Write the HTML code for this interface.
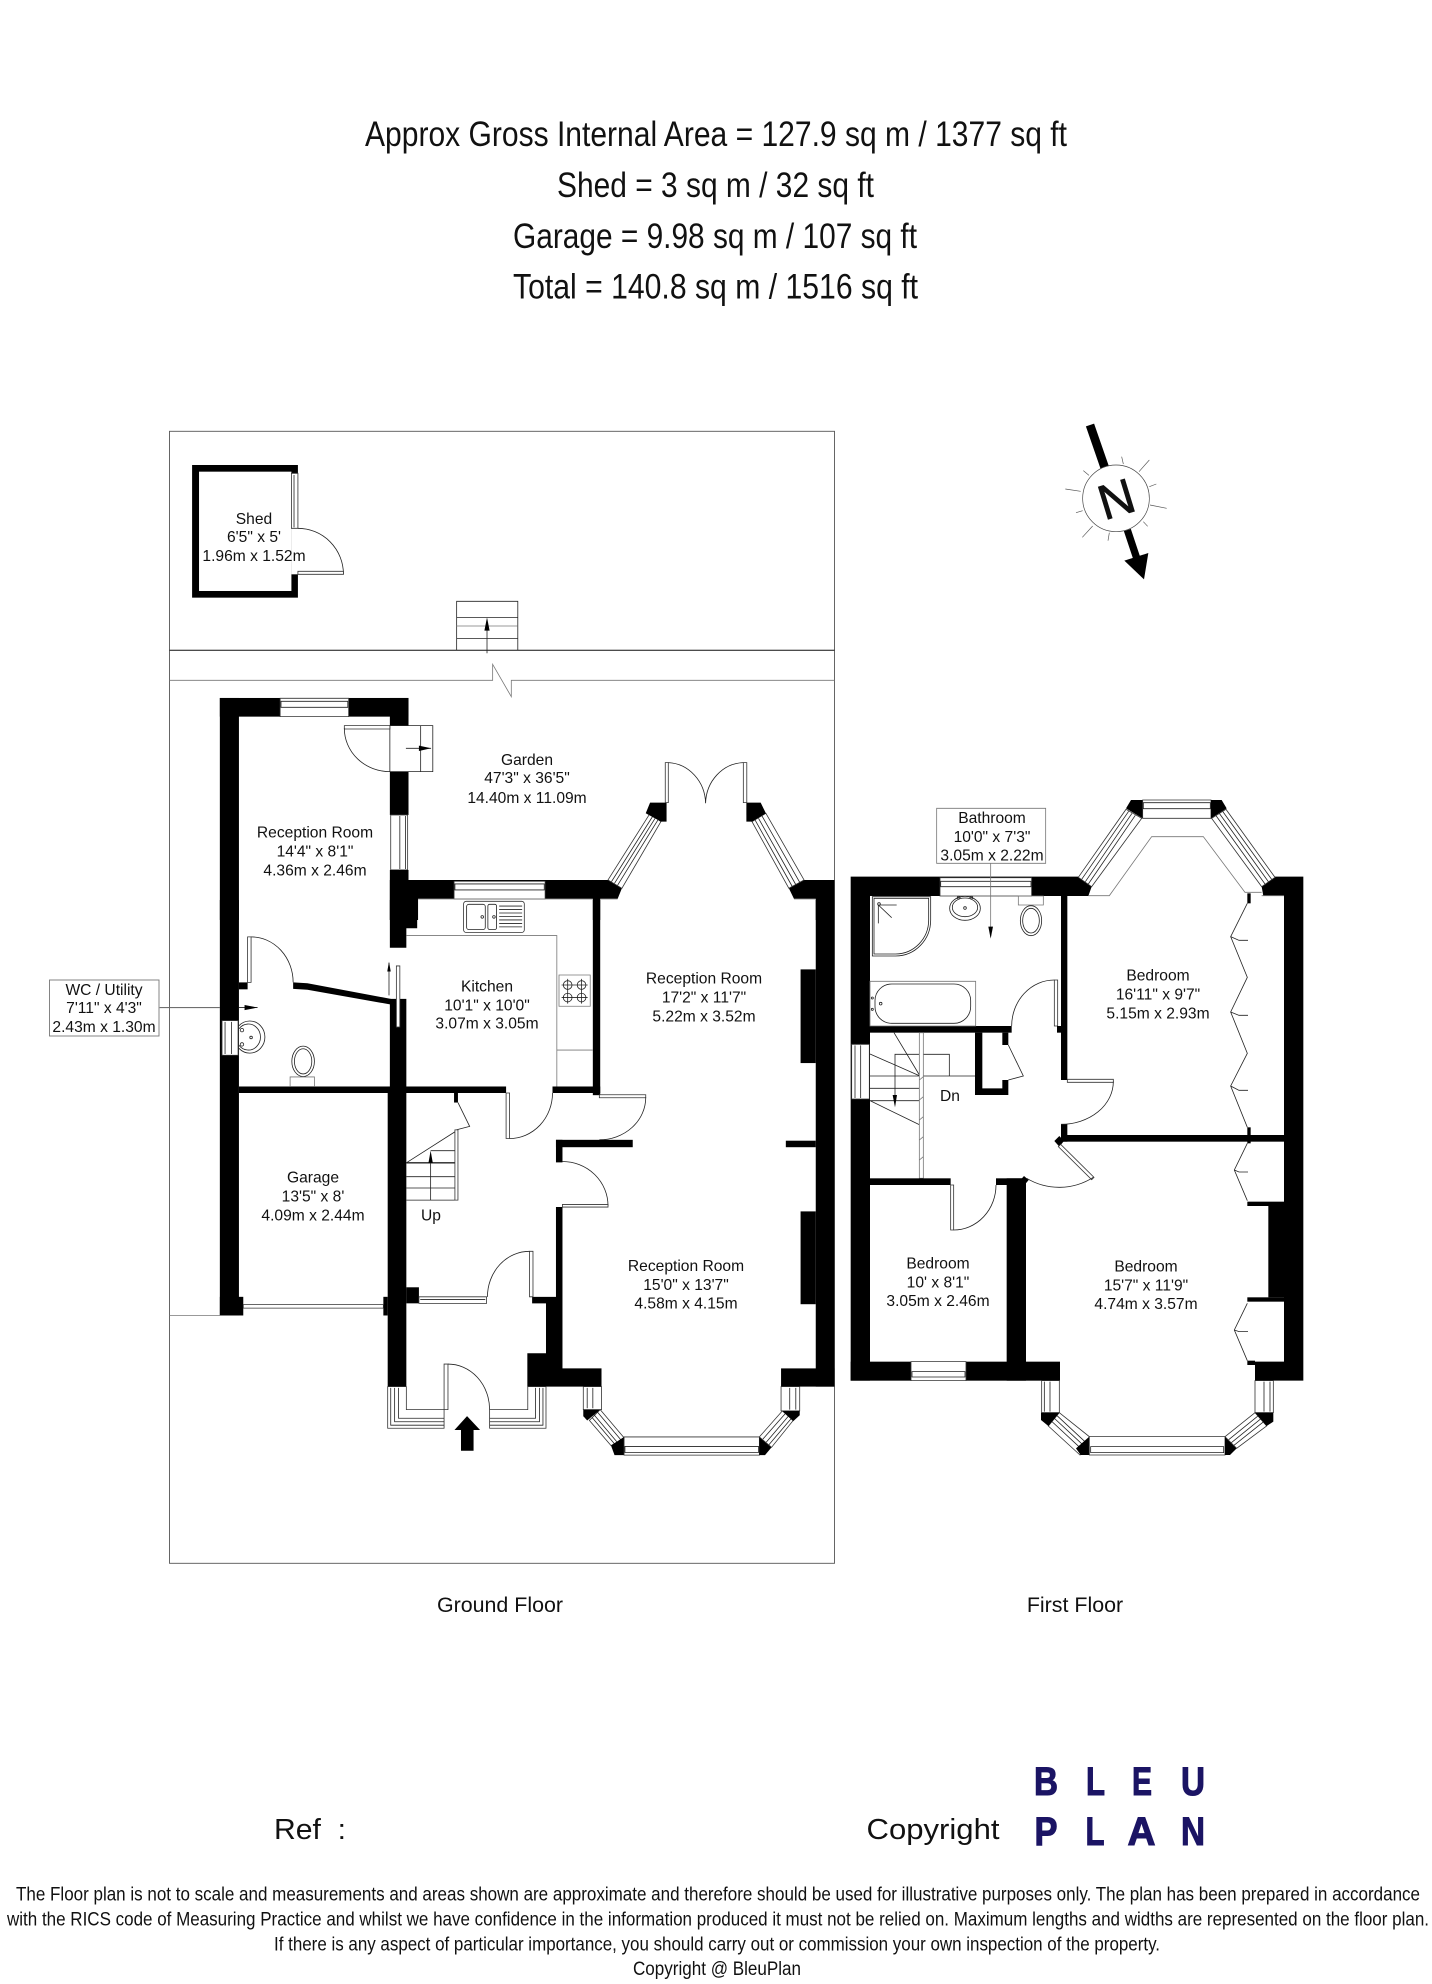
<!DOCTYPE html>
<html><head><meta charset="utf-8"><style>
html,body{margin:0;padding:0;background:#fff}
svg{display:block}
text{font-family:"Liberation Sans",Arial,sans-serif;fill:#111;text-anchor:middle}
.lb{font-size:15.6px}
.l{fill:none;stroke:#222;stroke-width:.8;vector-effect:non-scaling-stroke}
.g{fill:none;stroke:#777;stroke-width:.8;vector-effect:non-scaling-stroke}
.w{fill:#fff;stroke:#333;stroke-width:.8;vector-effect:non-scaling-stroke}
.b{fill:#000;stroke:none}
.logo text{fill:#1b1464;stroke:#1b1464;stroke-width:1.1}
</style></head><body>
<svg width="1432" height="1984" viewBox="0 0 1432 1984" xmlns="http://www.w3.org/2000/svg">
<rect width="1432" height="1984" fill="#fff"/>

<text x="716" y="146" font-size="35.5" textLength="702" lengthAdjust="spacingAndGlyphs">Approx Gross Internal Area = 127.9 sq m / 1377 sq ft</text>
<text x="715.5" y="197" font-size="35.5" textLength="317" lengthAdjust="spacingAndGlyphs">Shed = 3 sq m / 32 sq ft</text>
<text x="715" y="248" font-size="35.5" textLength="404" lengthAdjust="spacingAndGlyphs">Garage = 9.98 sq m / 107 sq ft</text>
<text x="715.5" y="298.5" font-size="35.5" textLength="405" lengthAdjust="spacingAndGlyphs">Total = 140.8 sq m / 1516 sq ft</text>

<!-- site frame -->
<rect x="169.5" y="431.3" width="665" height="1132" fill="none" stroke="#555" stroke-width=".9"/>
<path d="M169.5 650.3H834.5" stroke="#111" stroke-width="1" fill="none"/>

<!-- GROUP A -->
<g transform="translate(160 420) scale(.4337 .3333)">
  <path class="g" d="M22 781H767V733L810 830V781H1555"/>
  <!-- shed -->
  <rect class="b" x="74" y="135" width="244" height="398"/>
  <rect x="90" y="155" width="213" height="358" fill="#fff"/>
  <rect x="303" y="160" width="16" height="303" fill="#fff"/>
  <rect class="w" x="303" y="160" width="15" height="165"/>
  <path class="l" d="M309 165V322"/>
  <path class="l" d="M318 325A105 138 0 0 1 423 463"/>
  <rect class="w" x="318" y="454" width="105" height="9"/>
  <!-- steps -->
  <path class="l" d="M684 691V544H825V691M684 593H825M684 656H825"/>
  <path class="g" d="M684 618H825"/>
  <path class="l" d="M754 700V600"/>
  <path class="b" d="M754 592L760 632H748Z"/>
  <!-- back reception walls -->
  <rect class="b" x="138" y="834" width="44" height="666"/>
  <rect class="b" x="138" y="834" width="435" height="56"/>
  <rect class="w" x="277" y="835" width="158" height="55"/>
  <rect class="l" x="279" y="844" width="154" height="18"/>
  <rect class="b" x="530" y="834" width="43" height="83"/>
  <rect class="b" x="530" y="1055" width="43" height="130"/>
  <rect class="w" x="532" y="1185" width="39" height="165"/>
  <path class="l" d="M553 1188V1347M566 1188V1347"/>
  <rect class="b" x="530" y="1350" width="43" height="150"/>
  <rect class="l" x="530" y="917" width="99" height="138"/>
  <path class="l" d="M601 917V1055"/>
  <rect class="w" x="425" y="917" width="105" height="10"/>
  <path class="l" d="M425 925A105 130 0 0 0 530 1055"/>
  <path class="l" d="M567 985H625"/>
  <path class="b" d="M625 985L597 977V993Z"/>
  <!-- kitchen top wall -->
  <path class="b" d="M530 1380H1033L1065 1405L1055 1437H595V1500H530Z"/>
  <rect class="w" x="678" y="1384" width="210" height="53"/>
  <rect class="l" x="680" y="1392" width="206" height="18"/>
  <rect class="b" x="998" y="1437" width="17" height="63"/>
  <path class="g" d="M595 1437H998M1015 1437H1055"/>
  <!-- right top wall -->
  <path class="b" d="M1450 1405L1485 1380H1555V1500H1512V1437H1462Z"/>
  <path class="g" d="M1462 1437H1512"/>
  <!-- bay left -->
  <path class="w" d="M1033 1380L1130 1180L1155 1205L1065 1405Z"/>
  <path class="l" d="M1041 1385L1137 1187M1048 1390L1143 1192M1055 1396L1149 1198"/>
  <path class="b" d="M1130 1148H1168V1205H1155L1120 1180Z"/>
  <!-- bay right -->
  <path class="w" d="M1365 1205L1397 1180L1485 1380L1450 1405Z"/>
  <path class="l" d="M1372 1200L1458 1400M1380 1195L1466 1394M1388 1188L1475 1387"/>
  <path class="b" d="M1352 1148H1385L1397 1180L1365 1205H1352Z"/>
  <!-- french doors -->
  <rect class="w" x="1165" y="1028" width="7" height="120"/>
  <rect class="w" x="1345" y="1028" width="8" height="120"/>
  <path class="l" d="M1172 1028A90 125 0 0 1 1258 1150M1345 1028A90 125 0 0 0 1258 1150"/>
</g>

<!-- GROUP B -->
<g transform="translate(160 900) scale(.4337)">
  <path class="g" d="M22 958H138"/>
  <!-- outer left -->
  <rect class="b" x="138" y="0" width="44" height="958"/>
  <rect class="b" x="138" y="915" width="54" height="43"/>
  <rect class="w" x="143" y="278" width="37" height="80"/>
  <path class="l" d="M150 281V355M165 281V355"/>
  <!-- wc partition -->
  <rect class="b" x="182" y="190" width="20" height="16"/>
  <rect class="w" x="202" y="85" width="8" height="105"/>
  <path class="l" d="M210 85A97 105 0 0 1 307 190"/>
  <path class="b" d="M307 190L340 192L532 228V241L340 207L307 205Z"/>
  <!-- spine wall -->
  <path class="b" d="M530 0H593V65H568V110H530Z"/>
  <rect class="b" x="530" y="228" width="38" height="205"/>
  <rect class="b" x="525" y="430" width="43" height="692"/>
  <rect class="b" x="568" y="893" width="29" height="37"/>
  <rect class="b" x="515" y="915" width="10" height="43"/>
  <rect class="w" x="545" y="152" width="8" height="141"/>
  <path class="l" d="M528 220V145"/>
  <path class="b" d="M528 142L532 165H524Z"/>
  <!-- garage wall, horizontal -->
  <rect class="b" x="182" y="430" width="616" height="15"/>
  <rect class="w" x="798" y="445" width="8" height="105"/>
  <path class="l" d="M806 550A99 105 0 0 0 905 445"/>
  <rect class="b" x="905" y="430" width="110" height="15"/>
  <rect class="b" x="998" y="0" width="17" height="450"/>
  <rect class="w" x="192" y="933" width="323" height="8"/>
  <!-- door to rear reception -->
  <rect class="w" x="1013" y="449" width="107" height="7"/>
  <path class="l" d="M1120 455A107 98 0 0 1 1013 553"/>
  <rect class="b" x="913" y="553" width="177" height="17"/>
  <rect class="b" x="913" y="553" width="15" height="52"/>
  <rect class="b" x="1443" y="555" width="69" height="15"/>
  <path class="l" d="M928 603A105 102 0 0 1 1033 705"/>
  <rect class="w" x="928" y="702" width="105" height="6"/>
  <path class="b" d="M913 708H928V1080H1018V1122H847V1045H890V930H858V915H913Z"/>
  <!-- right wall -->
  <rect class="b" x="1512" y="0" width="43" height="1122"/>
  <rect class="b" x="1432" y="1080" width="123" height="42"/>
  <rect class="b" x="1477" y="160" width="35" height="216"/>
  <rect class="b" x="1477" y="718" width="35" height="214"/>
  <!-- hall door -->
  <rect class="w" x="852" y="810" width="8" height="105"/>
  <path class="l" d="M852 810A97 105 0 0 0 755 915"/>
  <rect class="w" x="597" y="915" width="156" height="15"/>
  <path class="l" d="M600 921H750"/>
  <!-- kitchen -->
  <path class="g" d="M568 82H915V430M915 346H998"/>
  <rect class="w" x="700" y="3" width="140" height="72" rx="6"/>
  <rect class="l" x="707" y="10" width="43" height="58" rx="5"/>
  <rect class="l" x="756" y="10" width="20" height="58" rx="4"/>
  <path class="l" d="M782 14H835M782 22H835M782 30H835M782 38H835M782 46H835M782 54H835M782 62H835"/>
  <circle class="l" cx="743" cy="39" r="3"/><circle class="l" cx="770" cy="39" r="3"/>
  <rect class="g" x="920" y="173" width="72" height="72"/>
  <circle class="l" cx="940" cy="196" r="10"/><circle class="l" cx="972" cy="196" r="10"/>
  <circle class="l" cx="940" cy="225" r="10"/><circle class="l" cx="972" cy="225" r="10"/>
  <path class="l" d="M926 196H986M926 225H986M940 182V239M972 182V239"/>
  <!-- wc -->
  <path class="l" d="M182 290A35 37 0 1 1 182 342"/>
  <path class="l" d="M182 297A28 30 0 1 1 182 335"/>
  <circle class="l" cx="210" cy="317" r="3"/>
  <circle class="l" cx="189" cy="300" r="4"/><circle class="l" cx="189" cy="333" r="4"/>
  <ellipse class="l" cx="330" cy="372" rx="26" ry="35"/>
  <ellipse class="l" cx="330" cy="372" rx="20" ry="29"/>
  <rect class="g" x="300" y="408" width="56" height="22"/>
  <path class="l" d="M0 248H138"/>
  <path class="l" d="M182 248H225"/>
  <path class="b" d="M225 248L195 242V254Z"/>
  <!-- stairs -->
  <rect class="b" x="678" y="445" width="9" height="22"/>
  <path class="l" d="M687 467L714 522L683 530"/>
  <path class="l" d="M687 530L568 606M624 578H680M568 638H680M568 664H680M568 692H687"/>
  <path class="l" d="M568 606H680" style="stroke-width:1.4"/>
  <rect class="w" x="680" y="530" width="7" height="162"/>
  <path class="l" d="M624 692V585"/>
  <path class="b" d="M624 578L629 606H619Z"/>
  <!-- porch -->
  <path class="w" d="M525 1122V1218H655V1175H568V1122Z"/>
  <path class="l" d="M532 1125V1211H655M541 1125V1203H655M550 1125V1195H655"/>
  <rect class="w" x="655" y="1070" width="9" height="105"/>
  <path class="l" d="M664 1070A96 105 0 0 1 760 1175"/>
  <path class="w" d="M760 1175H848V1122H890V1218H760Z"/>
  <path class="l" d="M760 1211H883V1125M760 1203H875V1125M760 1195H866V1125"/>
  <path class="b" d="M708 1190L738 1222H723V1270H694V1222H679Z"/>
  <!-- bay front -->
  <rect class="w" x="976" y="1122" width="42" height="53"/>
  <path class="l" d="M985 1125V1172M998 1125V1172"/>
  <path class="w" d="M1015 1175L1070 1240L1040 1258L990 1200Z"/>
  <path class="l" d="M1008 1180L1062 1244M1000 1186L1054 1250M996 1193L1048 1254"/>
  <path class="b" d="M976 1175H1015L985 1200L976 1190Z"/>
  <path class="b" d="M1040 1258L1070 1238V1280H1048Z"/>
  <rect class="w" x="1070" y="1238" width="312" height="42"/>
  <rect class="l" x="1072" y="1260" width="308" height="14"/>
  <path class="b" d="M1382 1238L1410 1262L1395 1280H1382Z"/>
  <path class="w" d="M1382 1238L1435 1178L1460 1200L1410 1262Z"/>
  <path class="l" d="M1390 1243L1442 1184M1398 1250L1449 1190M1404 1256L1455 1196"/>
  <rect class="w" x="1432" y="1122" width="43" height="56"/>
  <path class="l" d="M1452 1125V1175M1466 1125V1175"/>
  <path class="b" d="M1435 1178H1475V1188L1460 1202Z"/>
</g>

<!-- GROUP C -->
<g transform="translate(840 780) scale(.33333)">
  <!-- outer -->
  <path class="b" d="M32 290H715L755 320L745 348H90V1802H32Z"/>
  <rect class="b" x="32" y="1745" width="628" height="57"/>
  <rect class="w" x="300" y="293" width="275" height="55"/>
  <rect class="l" x="302" y="304" width="271" height="16"/>
  <rect class="w" x="35" y="793" width="53" height="164"/>
  <path class="l" d="M45 796V954M62 796V954"/>
  <path class="b" d="M1265 320L1305 290H1390V1802H1245V1745H1332V348H1270Z"/>
  <!-- bay top -->
  <path class="w" d="M715 292L858 88L905 115L755 320Z"/>
  <path class="l" d="M725 298L866 94M736 305L876 100M745 312L886 106"/>
  <path class="b" d="M873 60H908V115L858 85Z"/>
  <rect class="w" x="908" y="60" width="205" height="55"/>
  <rect class="l" x="910" y="68" width="201" height="18"/>
  <path class="b" d="M1113 60H1145L1160 85L1113 115Z"/>
  <path class="w" d="M1115 115L1158 88L1305 292L1265 320Z"/>
  <path class="l" d="M1128 107L1275 312M1138 100L1285 305M1148 94L1295 298"/>
  <path class="g" d="M745 347H808L935 170H1090L1215 337H1265"/>
  <path class="g" d="M1265 347H1332"/>
  <!-- partition -->
  <rect class="b" x="663" y="348" width="19" height="552"/>
  <rect class="b" x="663" y="1033" width="19" height="52"/>
  <rect class="b" x="663" y="1065" width="669" height="20"/>
  <path class="b" d="M643 1083L658 1068L672 1083L658 1100Z"/>
  <rect class="w" x="643" y="600" width="10" height="138"/>
  <rect class="b" x="651" y="738" width="12" height="20"/>
  <path class="l" d="M643 600A128 138 0 0 0 515 738"/>
  <rect class="w" x="682" y="898" width="138" height="9"/>
  <path class="l" d="M820 905A157 128 0 0 1 663 1033"/>
  <!-- wardrobes -->
  <rect class="b" x="1222" y="340" width="10" height="30"/>
  <rect class="b" x="1222" y="1042" width="10" height="48"/>
  <path class="l" d="M1222 370L1172 470L1222 592L1172 696L1222 820L1172 918L1222 1042"/>
  <path class="l" d="M1172 470L1197 481H1224M1172 696L1197 706H1224M1172 918L1197 931H1224"/>
  <path class="l" d="M1222 1090L1183 1170L1222 1262M1183 1170L1197 1176H1224"/>
  <rect class="b" x="1222" y="1265" width="110" height="13"/>
  <rect class="b" x="1285" y="1278" width="47" height="274"/>
  <rect class="b" x="1222" y="1552" width="110" height="13"/>
  <path class="l" d="M1222 1570L1183 1650L1222 1742M1183 1650L1197 1655H1224"/>
  <rect class="b" x="1222" y="1742" width="23" height="13"/>
  <!-- bathroom -->
  <rect class="b" x="90" y="738" width="425" height="20"/>
  <path class="b" d="M405 758H427V925H487V900H505V945H405Z"/>
  <rect class="b" x="487" y="758" width="18" height="37"/>
  <path class="l" d="M505 795L550 888L505 900"/>
  <rect class="g" x="90" y="604" width="317" height="134"/>
  <rect class="l" x="105" y="612" width="287" height="118" rx="50"/>
  <circle class="l" cx="122" cy="671" r="4"/><circle class="l" cx="97" cy="654" r="3"/><circle class="l" cx="97" cy="688" r="3"/>
  <path class="l" d="M97 350H272V420A105 108 0 0 1 167 528H97Z"/>
  <path class="l" d="M102 355H266V420A100 102 0 0 1 167 522H102Z"/>
  <path class="l" d="M115 375V430M115 375H170M115 375L155 413"/>
  <circle class="l" cx="117" cy="372" r="4"/>
  <ellipse class="l" cx="375" cy="385" rx="46" ry="36"/>
  <ellipse class="l" cx="375" cy="382" rx="38" ry="28"/>
  <circle class="l" cx="356" cy="353" r="4"/><circle class="l" cx="394" cy="353" r="4"/><circle class="l" cx="375" cy="384" r="4"/>
  <rect class="g" x="535" y="348" width="75" height="27"/>
  <ellipse class="l" cx="573" cy="422" rx="32" ry="45"/>
  <ellipse class="l" cx="573" cy="422" rx="25" ry="37"/>
  <rect class="g" x="290" y="85" width="327" height="165"/>
  <path class="g" d="M452 250V470"/>
  <path class="b" d="M452 476L459 440H445Z"/>
  <!-- stairs -->
  <path class="l" d="M162 758L240 888M90 822L240 888M90 888H405M90 925H240M90 962H240M90 962L240 1035"/>
  <path class="l" d="M328 888V823H165V975"/>
  <path class="b" d="M165 982L171 945H158Z"/>
  <rect class="w" x="238" y="758" width="12" height="437" style="stroke:#777"/>
  <path class="g" d="M238 900L250 890M238 960L250 950M238 1020L250 1010M238 1080L250 1070M238 1140L250 1130"/>
  <!-- lower rooms -->
  <rect class="b" x="90" y="1195" width="242" height="20"/>
  <rect class="b" x="468" y="1195" width="90" height="20"/>
  <rect class="b" x="500" y="1195" width="58" height="607"/>
  <path class="b" d="M543 1198L552 1188L566 1200L556 1212Z"/>
  <rect class="w" x="332" y="1215" width="9" height="135"/>
  <path class="l" d="M341 1350A127 135 0 0 0 468 1215"/>
  <path class="w" d="M655 1100L662 1093L762 1192L755 1199Z"/>
  <path class="l" d="M760 1192A190 190 0 0 1 560 1195"/>
  <rect class="w" x="213" y="1745" width="165" height="57"/>
  <rect class="l" x="216" y="1775" width="159" height="16"/>
  <!-- bay bottom -->
  <rect class="w" x="605" y="1802" width="53" height="96"/>
  <path class="l" d="M613 1805V1895M630 1805V1895"/>
  <path class="w" d="M658 1898L748 1970L720 2025L625 1938Z"/>
  <path class="l" d="M650 1906L735 1985M642 1914L727 1993M634 1923L719 2002"/>
  <path class="b" d="M603 1898H658L625 1938L603 1920Z"/>
  <path class="b" d="M748 1970V2025H722L708 2005Z"/>
  <rect class="w" x="748" y="1970" width="407" height="55"/>
  <rect class="l" x="752" y="2000" width="399" height="18"/>
  <path class="b" d="M1155 1970L1190 2005L1170 2025H1155Z"/>
  <path class="w" d="M1155 1970L1245 1898L1280 1938L1190 2005Z"/>
  <path class="l" d="M1166 1979L1254 1908M1174 1988L1262 1917M1182 1996L1270 1926"/>
  <rect class="w" x="1245" y="1802" width="55" height="96"/>
  <path class="l" d="M1272 1805V1895M1290 1805V1895"/>
  <path class="b" d="M1245 1898H1300V1925L1280 1938Z"/>
</g>

<!-- WC label -->
<rect x="49.5" y="980" width="109.5" height="56" fill="#fff" stroke="#777" stroke-width=".9"/>
<path d="M159 1007.7H220" stroke="#777" stroke-width=".9" fill="none"/>
<g class="lb">
<text x="104" y="995">WC / Utility</text>
<text x="104" y="1013">7'11" x 4'3"</text>
<text x="104" y="1032">2.43m x 1.30m</text>

<text x="254" y="524">Shed</text><text x="254" y="542">6'5" x 5'</text><text x="254" y="561">1.96m x 1.52m</text>
<text x="527" y="765">Garden</text><text x="527" y="783">47'3" x 36'5"</text><text x="527" y="803">14.40m x 11.09m</text>
<text x="315" y="837.5">Reception Room</text><text x="315" y="856.5">14'4" x 8'1"</text><text x="315" y="875.5">4.36m x 2.46m</text>
<text x="487" y="991.5">Kitchen</text><text x="487" y="1010.5">10'1" x 10'0"</text><text x="487" y="1028.5">3.07m x 3.05m</text>
<text x="704" y="983.5">Reception Room</text><text x="704" y="1002.5">17'2" x 11'7"</text><text x="704" y="1021.5">5.22m x 3.52m</text>
<text x="313" y="1182.5">Garage</text><text x="313" y="1201.5">13'5" x 8'</text><text x="313" y="1220.5">4.09m x 2.44m</text>
<text x="431" y="1220.5">Up</text>
<text x="686" y="1271">Reception Room</text><text x="686" y="1290">15'0" x 13'7"</text><text x="686" y="1308.5">4.58m x 4.15m</text>
<text x="992" y="823">Bathroom</text><text x="992" y="842">10'0" x 7'3"</text><text x="992" y="860.5">3.05m x 2.22m</text>
<text x="1158" y="980.5">Bedroom</text><text x="1158" y="999.5">16'11" x 9'7"</text><text x="1158" y="1018.5">5.15m x 2.93m</text>
<text x="950" y="1101">Dn</text>
<text x="938" y="1268.5">Bedroom</text><text x="938" y="1287.5">10' x 8'1"</text><text x="938" y="1306">3.05m x 2.46m</text>
<text x="1146" y="1271.5">Bedroom</text><text x="1146" y="1290.5">15'7" x 11'9"</text><text x="1146" y="1309">4.74m x 3.57m</text>
</g>

<!-- compass -->
<g transform="translate(1040 400) scale(.33333)">
  <path d="M150 75L195 205" stroke="#000" stroke-width="26" fill="none"/>
  <path d="M262 390L292 480" stroke="#000" stroke-width="22" fill="none"/>
  <path class="b" d="M253 482L325 459L312 538Z"/>
  <circle cx="228" cy="295" r="100" fill="#fff" stroke="#444" stroke-width="2"/>
  <path d="M297 215L328 180M250 192L245 170M130 212L147 226M122 274L76 267M128 332L108 338M158 378L127 412M208 398L204 422M310 365L323 379M330 315L380 325M328 260L349 252" stroke="#555" stroke-width="2" fill="none"/>
</g>
<text x="1116" y="516" font-size="49" transform="rotate(-17 1116 498)" stroke="#111" stroke-width=".8">N</text>

<text x="500" y="1612" font-size="21.4">Ground Floor</text>
<text x="1075" y="1612" font-size="21.4">First Floor</text>

<text x="310" y="1839" font-size="29" textLength="72" lengthAdjust="spacingAndGlyphs" xml:space="preserve">Ref  :</text>
<text x="933" y="1839" font-size="29" textLength="133" lengthAdjust="spacingAndGlyphs">Copyright</text>

<g class="logo" font-size="40" font-weight="bold">
<text x="1046" y="1795" textLength="24" lengthAdjust="spacingAndGlyphs">B</text>
<text x="1095.5" y="1795" textLength="19" lengthAdjust="spacingAndGlyphs">L</text>
<text x="1142" y="1795" textLength="20" lengthAdjust="spacingAndGlyphs">E</text>
<text x="1193" y="1795" textLength="24" lengthAdjust="spacingAndGlyphs">U</text>
<text x="1046" y="1845" textLength="23" lengthAdjust="spacingAndGlyphs">P</text>
<text x="1095" y="1845" textLength="19" lengthAdjust="spacingAndGlyphs">L</text>
<text x="1141.5" y="1845" textLength="28" lengthAdjust="spacingAndGlyphs">A</text>
<text x="1193" y="1845" textLength="24" lengthAdjust="spacingAndGlyphs">N</text>
</g>

<text x="718" y="1900.5" font-size="19.3" textLength="1404" lengthAdjust="spacingAndGlyphs">The Floor plan is not to scale and measurements and areas shown are approximate and therefore should be used for illustrative purposes only. The plan has been prepared in accordance</text>
<text x="718" y="1925.5" font-size="19.3" textLength="1422" lengthAdjust="spacingAndGlyphs">with the RICS code of Measuring Practice and whilst we have confidence in the information produced it must not be relied on. Maximum lengths and widths are represented on the floor plan.</text>
<text x="717" y="1950.5" font-size="19.3" textLength="886" lengthAdjust="spacingAndGlyphs">If there is any aspect of particular importance, you should carry out or commission your own inspection of the property.</text>
<text x="717" y="1975" font-size="19.3" textLength="168" lengthAdjust="spacingAndGlyphs">Copyright @ BleuPlan</text>
</svg>
</body></html>
